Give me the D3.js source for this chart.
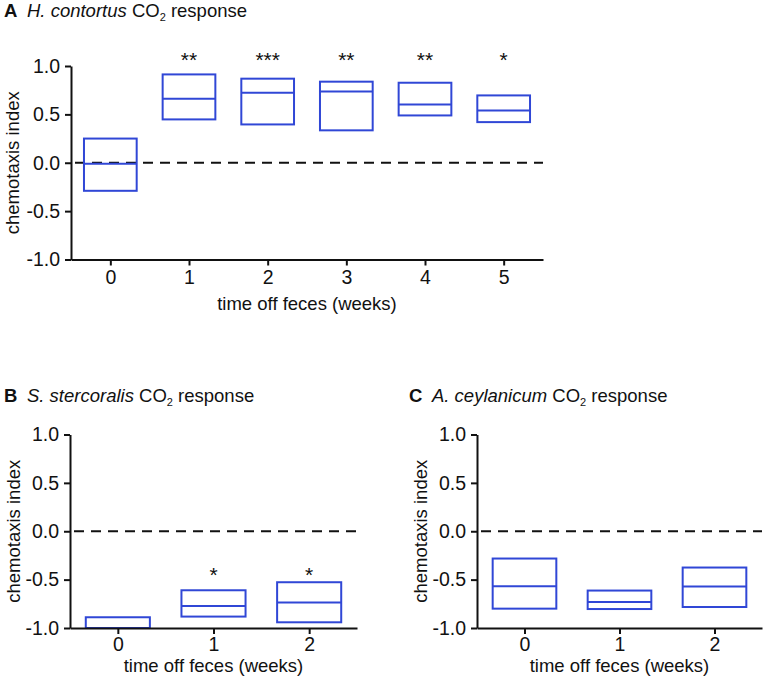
<!DOCTYPE html>
<html>
<head>
<meta charset="utf-8">
<script src="https://cdn.jsdelivr.net/npm/d3@7"></script>
<style>
  body { margin: 0; background: #fff; }
  svg { display: block; font-family: "Liberation Sans", Arial, Helvetica, sans-serif; }
  .axis path, .axis line { stroke: #111; stroke-width: 2; }
  .axis text { font-size: 19.5px; fill: #111; font-family: "Liberation Sans", Arial, sans-serif; }
</style>
</head>
<body>
<div id="chart"></div>
<script>
// chemotaxis index boxes (min / median / max)

// A: H. contortus
const hcWeeks = [0, 1, 2, 3, 4, 5];
const hcLow = [-0.29, 0.448, 0.396, 0.335, 0.489, 0.42];
const hcMedian = [-0.01, 0.662, 0.724, 0.737, 0.603, 0.541];
const hcHigh = [0.25, 0.913, 0.869, 0.838, 0.827, 0.696];
const hcStars = ['', '**', '***', '**', '**', '*'];

// B: S. stercoralis
const ssWeeks = [0, 1, 2];
const ssLow = [-1.0, -0.882, -0.941];
const ssMedian = [-1.0, -0.772, -0.737];
const ssHigh = [-0.889, -0.61, -0.527];
const ssStars = ['', '*', '*'];

// C: A. ceylanicum
const acWeeks = [0, 1, 2];
const acLow = [-0.80, -0.804, -0.783];
const acMedian = [-0.569, -0.731, -0.572];
const acHigh = [-0.282, -0.613, -0.375];
const acStars = ['', '', ''];

const yTicks = [-1, -0.5, 0, 0.5, 1];
const yLabel = 'chemotaxis index';
const xLabel = 'time off feces (weeks)';

const BOX_COLOR = '#3047d6';
const BOX_WIDTH = 0.67; // fraction of one week slot
const FONT_SIZE = 18.5;

// plain hyphen for negatives, like the original figure
const yFormat = d => d.toFixed(1);

const svg = d3.select('#chart').append('svg')
    .attr('width', 766)
    .attr('height', 681);

// panel layout
const panels = [
    { letter: 'A', species: 'H. contortus', weeks: hcWeeks, low: hcLow, median: hcMedian, high: hcHigh, stars: hcStars,
      left: 71, right: 543, top: 66, bottom: 259.5, titleX: 4, titleY: 17, starLevel: 0.985,
      yLabelX: 19, tickPad: 5, xTitleOffset: 50 },
    { letter: 'B', species: 'S. stercoralis', weeks: ssWeeks, low: ssLow, median: ssMedian, high: ssHigh, stars: ssStars,
      left: 70, right: 357, top: 434.5, bottom: 628, titleX: 4, titleY: 402, starLevel: -0.52,
      yLabelX: 20, tickPad: 3, xTitleOffset: 44 },
    { letter: 'C', species: 'A. ceylanicum', weeks: acWeeks, low: acLow, median: acMedian, high: acHigh, stars: acStars,
      left: 477, right: 762, top: 434.5, bottom: 628, titleX: 409, titleY: 402, starLevel: -0.52,
      yLabelX: 427, tickPad: 3, xTitleOffset: 44 }
];

panels.forEach(p => drawPanel(p));

function drawPanel(p) {
    const g = svg.append('g');

    const x = d3.scaleLinear()
        .domain([-0.5, p.weeks.length - 0.5])
        .range([p.left, p.right]);
    const y = d3.scaleLinear()
        .domain([-1, 1])
        .range([p.bottom, p.top]);

    const halfW = BOX_WIDTH / 2;

    // zero reference line
    g.append('line')
        .attr('x1', x(-0.5) + 4)
        .attr('x2', x(p.weeks.length - 0.5))
        .attr('y1', y(0))
        .attr('y2', y(0))
        .attr('stroke', '#111')
        .attr('stroke-width', 2)
        .attr('stroke-dasharray', '10,7');

    // boxes
    const boxes = g.selectAll('.box')
        .data(p.weeks)
        .enter().append('g')
        .attr('class', 'box');

    boxes.append('rect')
        .attr('x', d => x(d - halfW))
        .attr('width', d => x(d + halfW) - x(d - halfW))
        .attr('y', (d, i) => y(p.high[i]))
        .attr('height', (d, i) => y(p.low[i]) - y(p.high[i]))
        .attr('fill', 'none')
        .attr('stroke', BOX_COLOR)
        .attr('stroke-width', 2);

    boxes.append('line')
        .attr('x1', d => x(d - halfW))
        .attr('x2', d => x(d + halfW))
        .attr('y1', (d, i) => y(p.median[i]))
        .attr('y2', (d, i) => y(p.median[i]))
        .attr('stroke', BOX_COLOR)
        .attr('stroke-width', 2);

    // significance stars
    g.selectAll('.star')
        .data(p.weeks)
        .enter().append('text')
        .attr('class', 'star')
        .attr('x', d => x(d))
        .attr('y', y(p.starLevel))
        .attr('text-anchor', 'middle')
        .attr('font-size', 21)
        .attr('fill', '#111')
        .text((d, i) => p.stars[i]);

    // axes
    g.append('g')
        .attr('class', 'axis')
        .attr('transform', `translate(${p.left},0)`)
        .call(d3.axisLeft(y).tickValues(yTicks).tickSize(6).tickSizeOuter(0).tickPadding(5)
            .tickFormat(yFormat));

    g.append('g')
        .attr('class', 'axis')
        .attr('transform', `translate(0,${p.bottom})`)
        .call(d3.axisBottom(x).tickValues(p.weeks).tickSize(6).tickSizeOuter(0).tickPadding(p.tickPad)
            .tickFormat(d3.format('d')));

    // axis labels
    g.append('text')
        .attr('transform', 'rotate(-90)')
        .attr('x', -(p.top + p.bottom) / 2)
        .attr('y', p.yLabelX)
        .attr('text-anchor', 'middle')
        .attr('font-size', FONT_SIZE)
        .attr('fill', '#111')
        .text(yLabel);

    g.append('text')
        .attr('x', (p.left + p.right) / 2)
        .attr('y', p.bottom + p.xTitleOffset)
        .attr('text-anchor', 'middle')
        .attr('font-size', FONT_SIZE)
        .attr('fill', '#111')
        .text(xLabel);

    // panel title
    const title = g.append('text')
        .attr('x', p.titleX)
        .attr('y', p.titleY)
        .attr('font-size', FONT_SIZE)
        .attr('fill', '#111');
    title.append('tspan').attr('font-weight', 'bold').text(p.letter);
    title.append('tspan').attr('x', p.titleX + 23).attr('font-style', 'italic').text(p.species);
    title.append('tspan').text(' CO');
    title.append('tspan').attr('font-size', 11).attr('dy', 4).text('2');
    title.append('tspan').attr('dy', -4).text(' response');
}
</script>
</body>
</html>
